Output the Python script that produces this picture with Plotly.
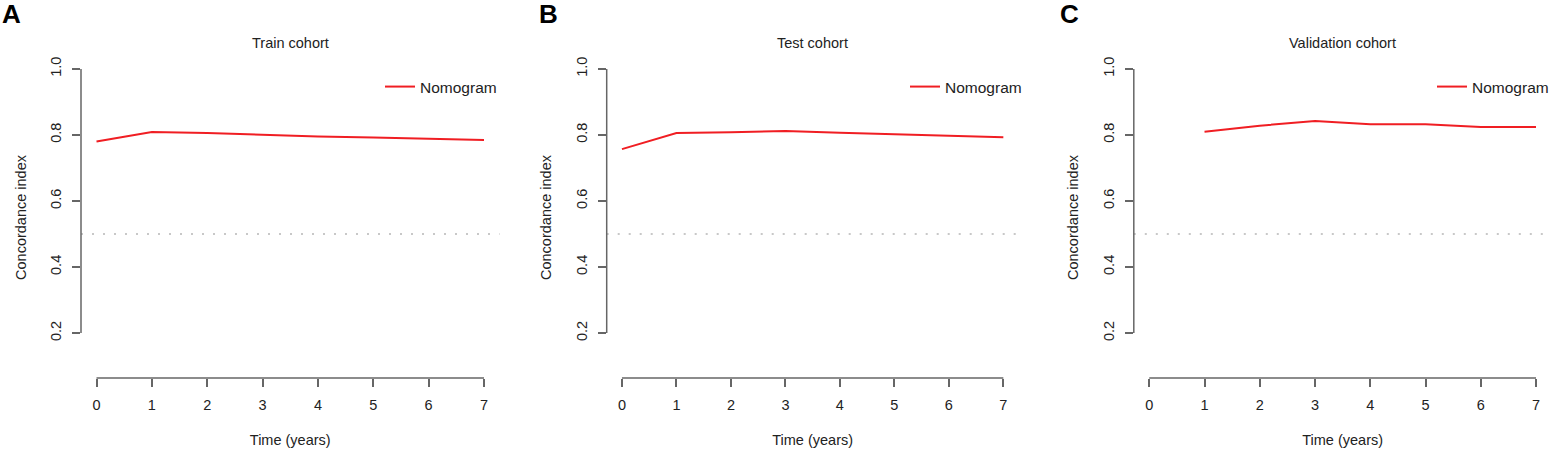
import plotly.graph_objects as go

# --- data ---
years_train = [0, 1, 2, 3, 4, 5, 6, 7]
cindex_train = [0.780, 0.809, 0.806, 0.800, 0.795, 0.792, 0.789, 0.785]

years_test = [0, 1, 2, 3, 4, 5, 6, 7]
cindex_test = [0.757, 0.806, 0.808, 0.812, 0.807, 0.802, 0.798, 0.793]

years_valid = [1, 2, 3, 4, 5, 6, 7]
cindex_valid = [0.810, 0.828, 0.842, 0.832, 0.832, 0.824, 0.824]

titles = ["Train cohort", "Test cohort", "Validation cohort"]
letters = ["A", "B", "C"]
x_ticks = [0, 1, 2, 3, 4, 5, 6, 7]
y_ticks = [0.2, 0.4, 0.6, 0.8, 1.0]
ref_line = 0.5

W, H = 1556, 454
FONT = "Liberation Sans, Arial, sans-serif"
FS = 14.5
RED = "#f01e23"
AXIS = "#666666"
TXT = "#222222"

# plot regions in pixels (left, right), shared top/bottom
panels_px = [(81, 499.5), (606.7, 1018.6), (1133.8, 1551.5)]
top_px, bot_px = 57, 378
ydom = [1 - bot_px / H, 1 - top_px / H]
letter_x = [0, 537, 1058]
legend_x = [380, 905, 1432]

series = [(years_train, cindex_train), (years_test, cindex_test), (years_valid, cindex_valid)]

fig = go.Figure()
for i, (xs, ys) in enumerate(series):
    n = "" if i == 0 else str(i + 1)
    fig.add_trace(go.Scatter(
        x=xs, y=ys, mode="lines", name="Nomogram",
        line=dict(color=RED, width=2),
        xaxis="x" + n, yaxis="y" + n,
        legend="legend" + n,
    ))

    l, r = panels_px[i]
    common = dict(showgrid=False, zeroline=False, showline=False, automargin=False,
                  ticks="outside", ticklen=8, tickwidth=1.5, tickcolor=AXIS,
                  tickfont=dict(family=FONT, size=FS, color=TXT))
    fig.update_layout(**{
        "xaxis" + n: dict(domain=[l / W, r / W], range=[-0.28, 7.28],
                          tickvals=x_ticks, ticklabelstandoff=6,
                          anchor="y" + n,
                          title=dict(text="Time (years)", standoff=22,
                                     font=dict(family=FONT, size=FS, color=TXT)),
                          **common),
        "yaxis" + n: dict(domain=ydom, range=[0.064, 1.036],
                          tickvals=y_ticks, tickformat=".1f", tickangle=-90,
                          ticklabelstandoff=5, anchor="x" + n,
                          title=dict(text="Concordance index", standoff=18,
                                     font=dict(family=FONT, size=FS, color=TXT)),
                          **common),
        "legend" + n: dict(x=legend_x[i] / W, y=1 - 70 / H, xanchor="left", yanchor="top",
                           bgcolor="rgba(0,0,0,0)",
                           font=dict(family=FONT, size=15.5, color=TXT)),
    })

    xr, yr = "x" + n, "y" + n
    # R-style axis lines that only span the tick range
    fig.add_shape(type="line", xref=xr + " domain", yref=yr, x0=0, x1=0,
                  y0=y_ticks[0], y1=y_ticks[-1], line=dict(color=AXIS, width=1.5))
    fig.add_shape(type="line", xref=xr, yref=yr + " domain", x0=x_ticks[0], x1=x_ticks[-1],
                  y0=0, y1=0, line=dict(color=AXIS, width=1.5))
    # reference line at 0.5
    fig.add_shape(type="line", xref=xr + " domain", yref=yr, x0=0, x1=1,
                  y0=ref_line, y1=ref_line, layer="below",
                  line=dict(color="#c8c8c8", width=2, dash="2px,9px"))

    fig.add_annotation(text=titles[i], xref=xr + " domain", yref="paper",
                       x=0.5, y=1 - 43 / H, yanchor="middle", showarrow=False,
                       font=dict(family=FONT, size=FS, color=TXT))
    fig.add_annotation(text="<b>" + letters[i] + "</b>", xref="paper", yref="paper",
                       x=letter_x[i] / W, y=1 + 3 / H, xanchor="left", yanchor="top",
                       showarrow=False,
                       font=dict(family=FONT, size=26, color="#000000"))

fig.update_layout(width=W, height=H, margin=dict(l=0, r=0, t=0, b=0),
                  plot_bgcolor="white", paper_bgcolor="white", showlegend=True)

fig.write_html("out.html", config={"displayModeBar": False},
               post_script="document.body.style.margin='0';")
